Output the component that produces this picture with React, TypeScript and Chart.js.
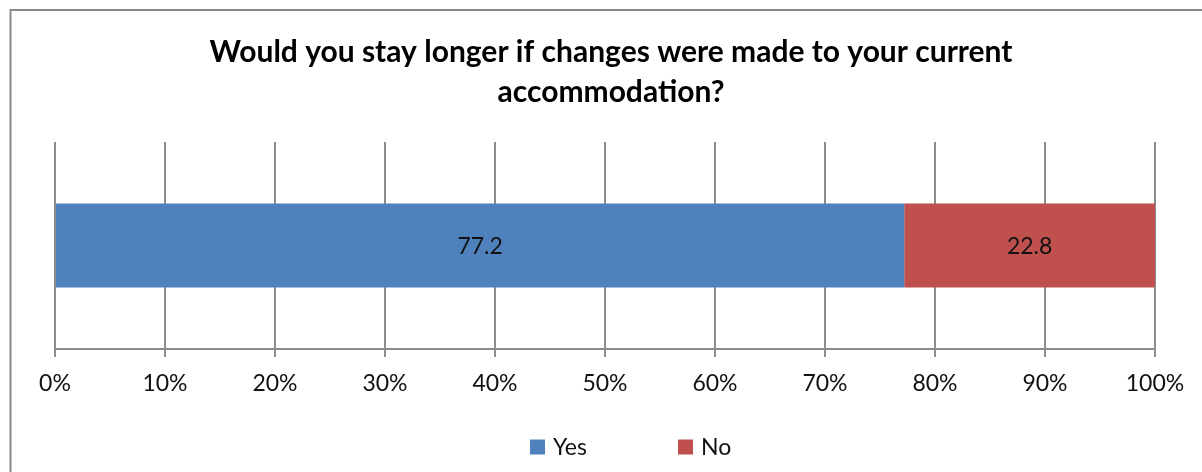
import React, { useEffect, useRef } from 'react';
import { Chart, registerables } from 'chart.js';

Chart.register(...registerables);

const TITLE_LINES = ['Would you stay longer if changes were made to your current', 'accommodation?'];
const CATEGORIES = [''];
const SERIES_NAMES = ['Yes', 'No'];
const YES_VALUES = [77.2];
const NO_VALUES = [22.8];
const SERIES_COLORS = ['#4F81BD', '#C0504D'];
const X_MIN = 0;
const X_MAX = 100;
const X_STEP = 10;

const FONT = 'Lato, "Open Sans", sans-serif';
const GRID = '#8c8c8c';

const framePlugin = {
  id: 'frame',
  beforeDraw(chart: any) {
    const { ctx, width, height } = chart;
    ctx.save();
    ctx.fillStyle = '#ffffff';
    ctx.fillRect(0, 0, width, height);
    ctx.strokeStyle = '#898989';
    ctx.lineWidth = 2;
    ctx.strokeRect(10.5, 10, width + 50, height + 50);
    ctx.restore();
  },
};

const barLabelPlugin = {
  id: 'barLabels',
  afterDatasetsDraw(chart: any) {
    const { ctx } = chart;
    ctx.save();
    ctx.font = `23px ${FONT}`;
    ctx.fillStyle = '#111111';
    ctx.textAlign = 'center';
    ctx.textBaseline = 'middle';
    chart.data.datasets.forEach((ds: any, i: number) => {
      const meta = chart.getDatasetMeta(i);
      meta.data.forEach((el: any, j: number) => {
        const v = ds.data[j];
        const cx = (el.x + el.base) / 2;
        ctx.fillText(Number(v).toFixed(1), cx, el.y + 1);
      });
    });
    ctx.restore();
  },
};

const legendPlugin = {
  id: 'customLegend',
  afterDraw(chart: any) {
    const { ctx } = chart;
    const box = 15;
    const startX = 530;
    const itemStep = 148;
    const cy = 447;
    ctx.save();
    ctx.font = `23px ${FONT}`;
    ctx.textBaseline = 'middle';
    ctx.textAlign = 'left';
    chart.data.datasets.forEach((ds: any, i: number) => {
      const x = startX + i * itemStep;
      ctx.fillStyle = ds.backgroundColor;
      ctx.fillRect(x, cy - box / 2, box, box);
      ctx.fillStyle = '#111111';
      ctx.fillText(ds.label, x + box + 8, cy + 1);
    });
    ctx.restore();
  },
};

export default function App() {
  const canvasRef = useRef<HTMLCanvasElement | null>(null);

  useEffect(() => {
    document.body.style.margin = '0';
    const canvas = canvasRef.current;
    if (!canvas) return;
    const chart = new Chart(canvas, {
      type: 'bar',
      data: {
        labels: CATEGORIES,
        datasets: [
          {
            label: SERIES_NAMES[0],
            data: YES_VALUES,
            backgroundColor: SERIES_COLORS[0],
            borderWidth: 0,
            barPercentage: 0.405,
            categoryPercentage: 1,
          },
          {
            label: SERIES_NAMES[1],
            data: NO_VALUES,
            backgroundColor: SERIES_COLORS[1],
            borderWidth: 0,
            barPercentage: 0.405,
            categoryPercentage: 1,
          },
        ],
      },
      options: {
        indexAxis: 'y',
        animation: false,
        responsive: true,
        maintainAspectRatio: false,
        layout: { padding: { left: 55, right: 35, top: 0, bottom: 0 } },
        scales: {
          x: {
            type: 'linear',
            stacked: true,
            min: X_MIN,
            max: X_MAX,
            ticks: {
              stepSize: X_STEP,
              callback: (v: any) => `${v}%`,
              font: { family: FONT, size: 23 },
              color: '#111111',
              padding: 13,
              maxRotation: 0,
              autoSkip: false,
            },
            grid: { color: GRID, lineWidth: 2, tickLength: 8, drawTicks: true },
            border: { color: GRID, width: 2 },
            afterFit: (s: any) => {
              s.height = 123;
            },
          },
          y: {
            type: 'category',
            stacked: true,
            position: 'right',
            display: true,
            ticks: { display: false },
            grid: { display: false },
            border: { display: false },
            afterFit: (s: any) => {
              s.width = 12;
            },
          },
        },
        plugins: {
          legend: { display: false },
          tooltip: { enabled: false },
          title: {
            display: true,
            text: TITLE_LINES,
            color: '#000000',
            font: { family: FONT, size: 30, weight: 'bold', lineHeight: '40px' },
            padding: { top: 32, bottom: 30 },
          },
        },
      },
      plugins: [framePlugin, barLabelPlugin, legendPlugin],
    });
    return () => chart.destroy();
  }, []);

  return (
    <div style={{ position: 'relative', width: 1202, height: 472 }}>
      <canvas ref={canvasRef} />
    </div>
  );
}
